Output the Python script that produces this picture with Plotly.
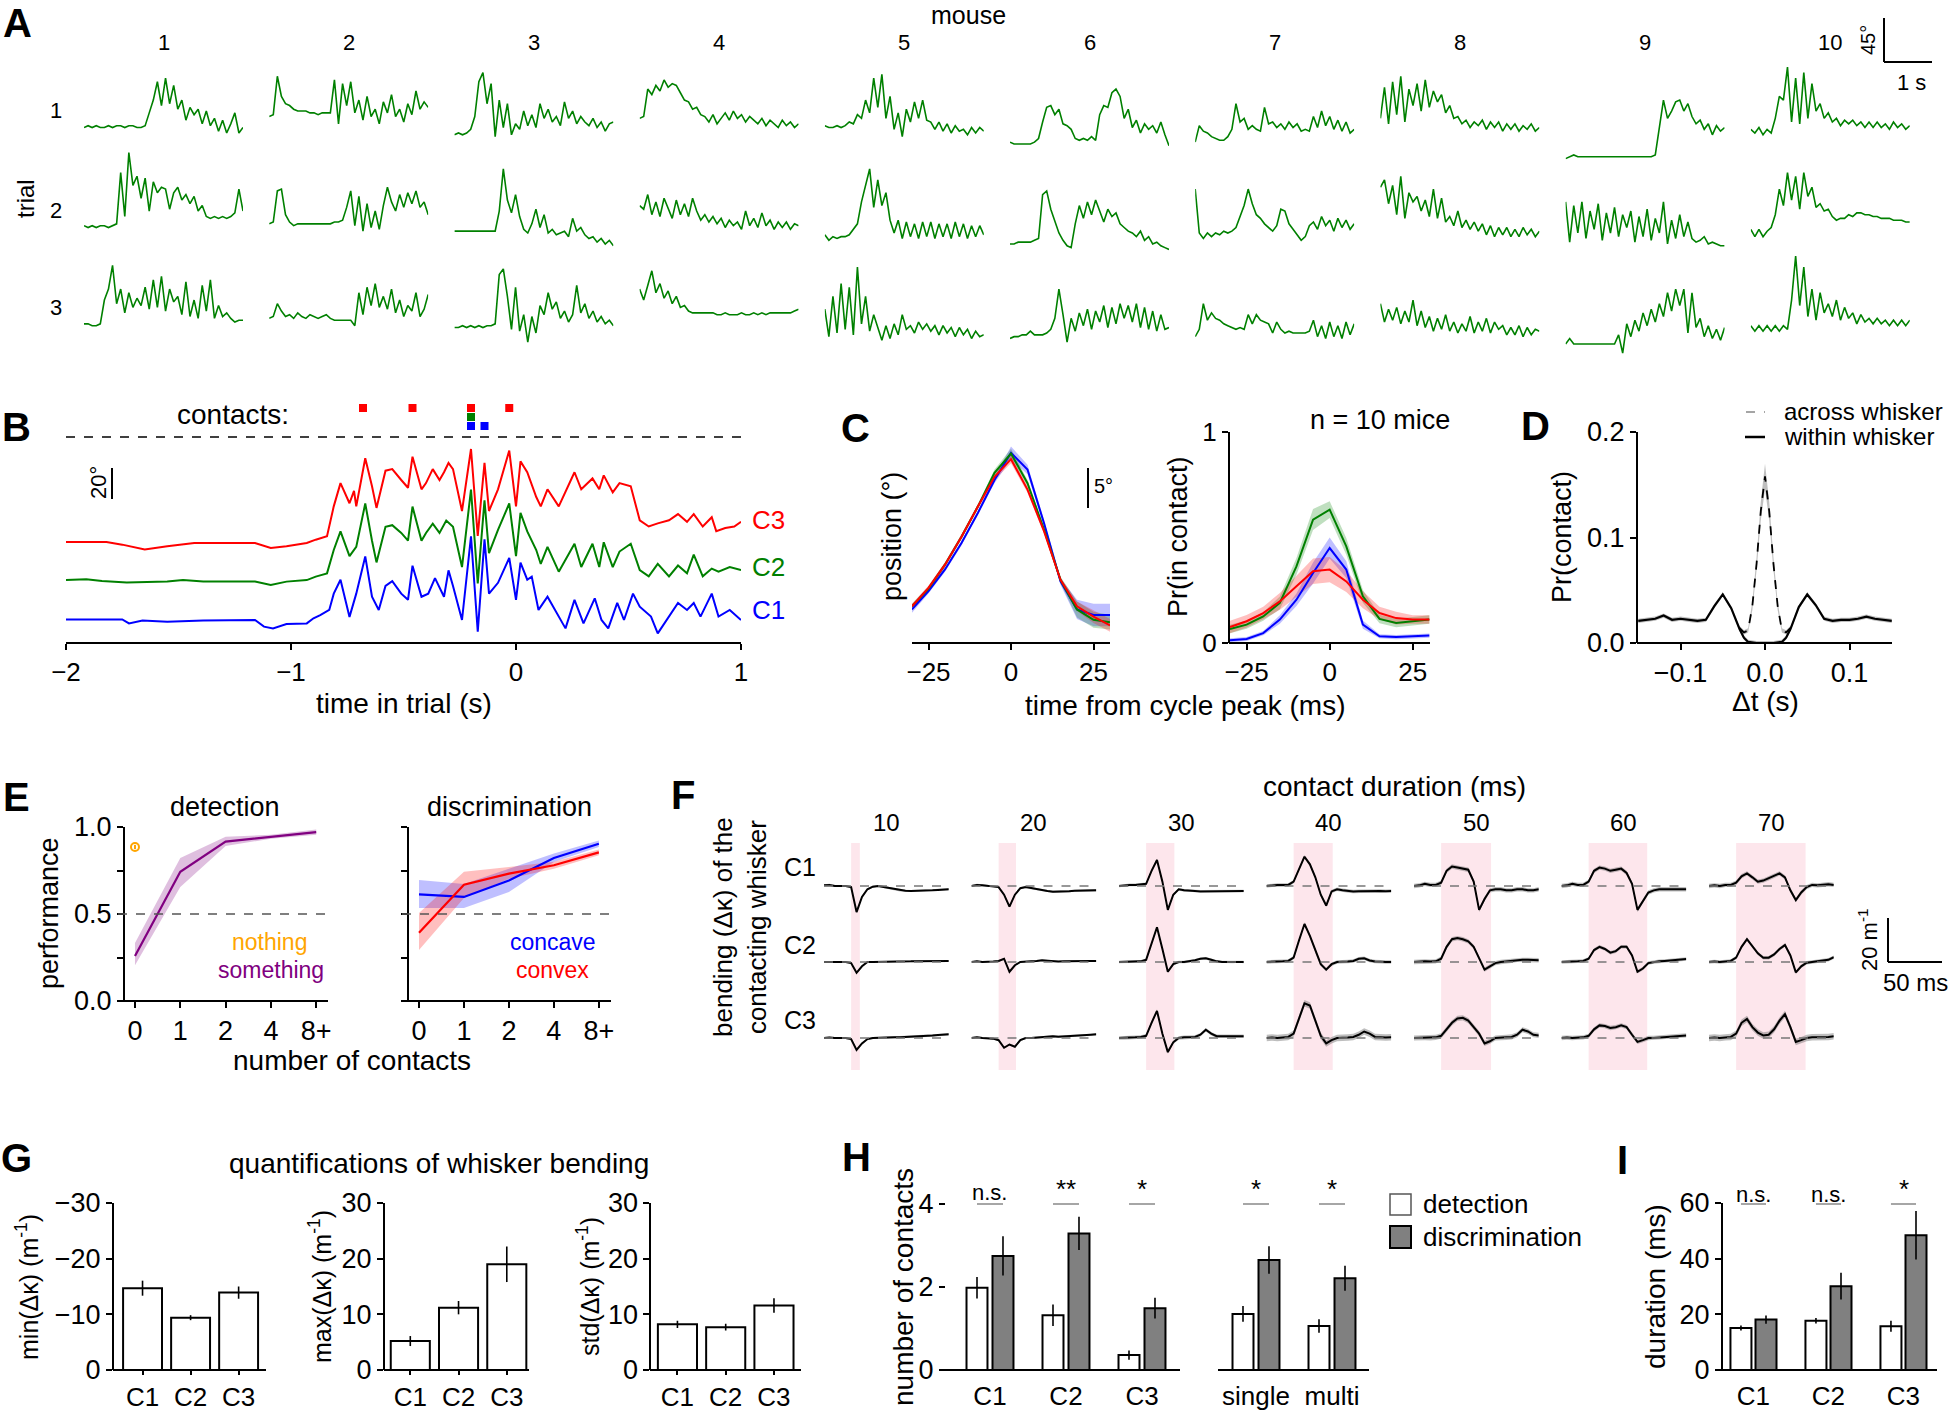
import numpy as np
import plotly.graph_objects as go

# ======================= DATA =======================
# ---- Panel A: whisker angle (deg) of 10 mice x 3 trials, 40 samples over 3.25 s
A_mice = ["1", "2", "3", "4", "5", "6", "7", "8", "9", "10"]
A_trials = ["1", "2", "3"]
A_duration_s = 3.25
A_trial1 = [
    [6,8,6,8,6,6,8,6,8,8,6,8,8,6,6,8,22,36,56,30,60,32,52,26,36,14,28,20,26,10,24,8,16,2,14,0,10,22,0,6],
    [18,20,62,40,32,30,26,24,24,24,22,22,20,22,22,22,58,10,54,30,56,22,36,14,40,18,26,10,34,22,42,18,26,12,32,20,46,26,34,28],
    [-2,0,-2,0,4,18,56,66,32,54,-4,36,6,32,-2,10,4,24,8,20,6,32,16,26,12,18,8,34,16,24,10,18,12,8,16,6,12,2,10,12],
    [16,18,48,42,52,46,58,50,54,52,44,36,34,26,28,20,18,12,20,10,16,22,14,24,16,20,12,18,14,10,16,8,14,10,6,14,8,12,6,10],
    [8,6,6,8,6,8,12,10,20,16,36,22,60,28,64,16,40,4,22,-4,26,12,34,16,36,14,12,4,12,2,10,0,8,2,4,-2,6,0,6,2],
    [-10,-12,-12,-12,-12,-12,-10,-6,12,28,30,20,26,10,8,4,-6,-8,-6,-8,-4,-8,20,30,28,44,48,40,16,26,6,14,0,10,4,8,0,12,-2,-14],
    [-10,8,2,0,-4,-6,-8,-8,-4,4,32,12,16,4,8,4,2,28,10,12,6,10,4,12,6,10,2,4,2,18,6,24,8,18,4,14,2,12,0,4],
    [16,50,10,56,20,62,12,48,30,54,24,58,28,46,34,42,22,30,16,18,10,14,6,12,8,14,4,12,6,12,2,10,4,10,2,8,4,10,2,6],
    [-28,-26,-24,-26,-26,-26,-26,-26,-26,-26,-26,-26,-26,-26,-26,-26,-26,-26,-26,-26,-26,-26,-24,8,36,16,24,34,36,24,32,18,10,14,4,10,-2,8,2,6],
    [4,0,6,-2,4,0,16,40,36,72,12,60,10,66,16,54,24,32,16,22,12,16,8,14,10,14,8,12,6,12,6,12,6,10,4,12,6,10,4,8],
]
A_trial2 = [
    [8,6,8,6,8,8,6,8,10,66,18,88,52,62,38,60,24,56,44,50,48,26,44,50,36,42,32,40,24,30,18,16,18,16,18,16,18,22,48,24],
    [10,12,46,48,20,12,8,10,10,10,10,10,10,10,10,10,12,12,14,28,46,8,40,2,32,6,24,4,30,50,34,24,42,28,44,32,46,28,34,20],
    [2,2,2,2,2,2,2,2,2,2,2,24,70,36,22,42,18,4,0,10,26,6,20,0,4,-2,0,2,-4,16,2,6,-2,-6,-4,-10,-6,-12,-8,-14],
    [30,26,42,20,34,18,38,26,16,36,20,32,18,38,24,14,20,12,18,10,16,6,14,8,12,4,24,8,16,6,22,8,14,4,12,6,12,4,10,8],
    [-2,-8,-4,-6,-4,-4,-2,4,10,34,52,70,28,58,30,44,14,0,14,-6,12,-4,10,-6,12,-4,12,-6,10,-4,10,-6,12,-4,10,-6,8,-4,8,-2],
    [-12,-12,-10,-10,-10,-10,-8,-6,42,46,26,12,0,-8,-14,-16,10,30,16,34,20,36,24,12,26,18,22,10,6,2,0,-4,2,-8,-4,-12,-10,-14,-16,-18],
    [48,0,-6,0,-4,0,-2,2,0,2,6,18,30,48,32,20,16,10,6,2,8,26,24,10,4,-2,-8,-4,8,12,4,18,8,14,2,16,6,14,4,10],
    [50,58,32,52,20,62,16,44,34,40,24,36,18,48,16,38,12,18,8,24,6,14,4,12,2,10,-2,8,-4,6,-2,6,-4,4,-4,6,-2,4,-4,2],
    [34,-10,30,0,34,-6,24,4,32,-8,22,0,28,-4,20,6,24,-10,18,-4,26,-8,16,0,34,-12,14,-6,20,-4,12,-6,-10,-8,-4,-12,-10,-12,-14,-14],
    [4,-4,4,-4,2,6,20,48,30,66,36,62,26,66,40,50,28,32,24,26,18,14,16,16,20,18,22,22,20,20,18,18,16,16,16,14,14,14,12,12],
]
A_trial3 = [
    [10,10,8,8,10,36,48,74,32,48,22,44,28,38,30,50,26,58,28,62,24,48,34,40,20,56,18,36,16,52,24,58,16,30,18,22,16,12,14,14],
    [16,18,32,24,18,20,16,22,18,16,20,18,16,18,20,16,14,14,14,14,14,8,44,20,50,30,54,28,40,26,48,22,36,18,30,24,44,18,26,42],
    [6,6,8,6,8,6,8,6,8,8,10,64,70,40,4,50,2,20,-10,18,0,30,20,44,26,34,16,24,12,20,52,22,32,16,24,12,18,10,14,8],
    [48,36,52,68,44,54,38,46,32,40,28,30,24,22,22,22,22,22,22,20,20,22,20,20,20,22,20,20,22,20,22,20,22,22,22,22,22,22,24,26],
    [26,-4,40,0,54,4,50,-2,72,10,40,2,20,6,-8,8,-6,10,-2,20,4,8,0,12,4,10,2,8,-2,8,0,6,-4,6,-2,4,-6,2,-4,-2],
    [-6,-4,-4,-2,-2,2,-2,-2,-2,0,4,16,48,20,-10,16,2,22,8,26,4,24,12,30,6,28,10,32,16,30,12,32,6,28,4,24,2,20,4,6],
    [-4,4,32,14,22,16,14,10,8,6,4,6,4,20,10,20,14,12,10,0,12,4,0,2,0,0,0,0,2,14,-4,8,-6,12,-4,8,-6,12,-2,10],
    [32,12,26,14,28,10,24,12,36,8,24,6,18,2,16,4,20,2,12,0,10,2,18,0,12,2,16,0,12,4,8,-2,6,-2,8,-4,6,-2,4,2],
    [-12,-6,-12,-12,-12,-12,-12,-12,-12,-12,-12,-12,-12,-2,-22,10,-4,14,2,22,8,26,12,32,18,44,24,48,30,48,0,44,6,16,-4,8,-6,4,-8,6],
    [8,2,8,2,8,2,8,2,8,4,36,84,30,72,18,48,14,44,22,32,18,36,14,28,16,22,10,20,12,16,10,16,10,14,8,14,8,14,8,14],
]

# ---- Panel B: whisker angles (deg, relative) vs time in trial (s)
B_t_C3 = [-2.00,-1.82,-1.75,-1.65,-1.55,-1.43,-1.16,-1.09,-1.02,-0.93,-0.89,-0.84,-0.81,-0.78,-0.74,-0.72,-0.71,-0.67,-0.64,-0.62,
          -0.58,-0.55,-0.51,-0.48,-0.46,-0.42,-0.40,-0.37,-0.34,-0.32,-0.30,-0.28,-0.24,-0.20,-0.17,-0.14,-0.12,-0.08,-0.03,0.00,
          0.02,0.05,0.09,0.11,0.14,0.19,0.26,0.29,0.34,0.37,0.39,0.43,0.46,0.51,0.55,0.59,0.63,0.68,0.72,0.76,0.79,0.83,0.87,0.89,0.93,0.97,1.00]
B_C3 = [0,0,-1.7,-4.9,-2.8,-0.6,-0.6,-3.9,-2.8,-0.6,1.5,3.7,23,38,25,33,23,54,36,22,
        46,47,40,35,55,34,38,47,40,45,51,47,20,60,4,51,20,34,59,23,
        52,45,29,23,34,23,45,34,41,34,43,32,38,36,14,10,12,14,18,13,18,10,16,7,9,10,13]
B_t_C2 = [-2.00,-1.91,-1.84,-1.73,-1.55,-1.48,-1.39,-1.16,-1.09,-1.02,-0.93,-0.89,-0.84,-0.81,-0.78,-0.74,-0.71,-0.67,-0.64,-0.62,
          -0.58,-0.55,-0.51,-0.48,-0.46,-0.42,-0.40,-0.37,-0.34,-0.31,-0.28,-0.24,-0.20,-0.17,-0.14,-0.12,-0.08,-0.03,0.00,0.02,
          0.05,0.09,0.11,0.14,0.19,0.26,0.29,0.34,0.37,0.39,0.43,0.46,0.51,0.55,0.59,0.63,0.68,0.72,0.76,0.79,0.83,0.87,0.90,0.95,1.00]
B_C2 = [0.6,1.1,0,-0.9,-0.4,0.6,-0.4,-0.4,-2.6,-0.4,0.6,2.8,4.9,20,32,16,22,50,26,12,
        35,36,31,26,48,26,31,37,31,39,35,9,59,-1.5,52,18,33,50,16,44,
        32,20,11,22,6,24,9,24,9,25,9,19,24,7,3,11,3,10,5,17,3,8,6,9,7]
B_t_C1 = [-2.00,-1.84,-1.75,-1.72,-1.66,-1.55,-1.39,-1.16,-1.12,-1.08,-1.02,-0.93,-0.90,-0.87,-0.83,-0.81,-0.78,-0.74,-0.71,-0.67,
          -0.64,-0.61,-0.58,-0.55,-0.51,-0.48,-0.46,-0.42,-0.39,-0.36,-0.32,-0.30,-0.28,-0.24,-0.20,-0.17,-0.14,-0.12,-0.08,-0.03,
          0.00,0.02,0.05,0.07,0.10,0.14,0.18,0.22,0.26,0.30,0.35,0.38,0.41,0.45,0.48,0.52,0.55,0.60,0.63,0.68,0.72,0.76,0.79,0.82,0.87,0.90,0.95,1.00]
B_C1 = [0.4,0.4,0.4,-2.2,-0.4,-1.1,-0.4,0,-4.3,-5.4,-2.6,-2.2,1.1,3.2,6.5,17,26,2,17,41,
        15,6.5,22,25,17,13,35,15,17,27,15,32,22,0,54,-7.5,52,17,24,40,
        13,37,26,28,6.5,15,4.3,-5.4,13,-2.2,14,0,-5.4,11,0,17,8.6,2.2,-8.6,2.2,11,6.5,11,2.2,17,2.2,6.5,0]
B_contacts_C3 = [-0.68, -0.46, -0.20, -0.03]
B_contacts_C2 = [-0.20]
B_contacts_C1 = [-0.20, -0.14]

# ---- Panel C: whisk-cycle aligned position (deg) and Pr(in contact)
C_t = [-30, -25, -20, -15, -10, -5, 0, 5, 10, 15, 20, 25, 30]
C_pos_C3 = [4.6, 6.9, 9.8, 13.3, 17.1, 20.8, 23.0, 19.2, 14.0, 7.9, 4.6, 3.3, 2.2]
C_pos_C2 = [4.6, 6.8, 9.8, 13.3, 17.1, 21.3, 23.7, 20.0, 14.2, 7.9, 4.2, 2.9, 2.6]
C_pos_C1 = [4.2, 6.5, 9.2, 12.5, 16.3, 20.4, 23.8, 21.7, 15.0, 7.7, 4.2, 3.5, 3.5]
C_pos_sem_C3 = [0.3, 0.3, 0.3, 0.3, 0.3, 0.4, 0.5, 0.4, 0.3, 0.3, 0.6, 0.8, 0.8]
C_pos_sem_C2 = [0.3, 0.3, 0.3, 0.3, 0.3, 0.4, 0.6, 0.4, 0.3, 0.4, 1.0, 1.0, 0.9]
C_pos_sem_C1 = [0.4, 0.3, 0.3, 0.3, 0.3, 0.4, 0.8, 0.6, 0.4, 0.4, 1.2, 1.4, 1.4]
C_pr_C3 = [0.076, 0.103, 0.142, 0.197, 0.269, 0.340, 0.348, 0.292, 0.205, 0.142, 0.118, 0.111, 0.111]
C_pr_C2 = [0.066, 0.087, 0.126, 0.190, 0.363, 0.585, 0.632, 0.458, 0.221, 0.114, 0.095, 0.103, 0.111]
C_pr_C1 = [0.013, 0.019, 0.047, 0.111, 0.205, 0.332, 0.450, 0.348, 0.087, 0.032, 0.028, 0.032, 0.035]
C_pr_sem_C3 = [0.03, 0.03, 0.03, 0.04, 0.05, 0.06, 0.06, 0.05, 0.04, 0.03, 0.03, 0.02, 0.02]
C_pr_sem_C2 = [0.02, 0.02, 0.02, 0.03, 0.04, 0.05, 0.04, 0.04, 0.03, 0.02, 0.02, 0.02, 0.02]
C_pr_sem_C1 = [0.01, 0.01, 0.01, 0.02, 0.03, 0.05, 0.05, 0.04, 0.02, 0.01, 0.01, 0.01, 0.01]

# ---- Panel D: cross-correlation of contacts
D_t_within = [-0.15,-0.14,-0.13,-0.12,-0.11,-0.10,-0.09,-0.08,-0.07,-0.06,-0.05,-0.04,-0.03,-0.025,-0.02,-0.01,0,
              0.01,0.02,0.025,0.03,0.04,0.05,0.06,0.07,0.08,0.09,0.10,0.11,0.12,0.13,0.14,0.15]
D_within = [0.021,0.022,0.023,0.026,0.022,0.023,0.022,0.021,0.022,0.035,0.046,0.033,0.013,0.005,0.001,0,0,
            0,0.001,0.005,0.013,0.034,0.046,0.036,0.023,0.021,0.022,0.022,0.023,0.025,0.023,0.022,0.021]
D_t_across = [-0.03,-0.025,-0.02,-0.015,-0.01,-0.005,0,0.005,0.01,0.015,0.02,0.025,0.03]
D_across = [0.014,0.010,0.012,0.035,0.075,0.125,0.158,0.125,0.075,0.035,0.012,0.010,0.014]
D_across_sem = [0.002,0.002,0.002,0.004,0.006,0.009,0.012,0.009,0.006,0.004,0.002,0.002,0.002]
D_within_sem = 0.002

# ---- Panel E: performance vs number of contacts
E_cats = ["0", "1", "2", "4", "8+"]
E_something = [0.259, 0.743, 0.916, 0.944, 0.971]
E_something_lo = [0.205, 0.655, 0.891, 0.933, 0.955]
E_something_hi = [0.333, 0.822, 0.944, 0.955, 0.986]
E_nothing = 0.885
E_nothing_err = 0.012
E_concave = [0.613, 0.598, 0.693, 0.822, 0.904]
E_concave_lo = [0.534, 0.534, 0.626, 0.799, 0.885]
E_concave_hi = [0.695, 0.672, 0.760, 0.847, 0.923]
E_convex = [0.392, 0.668, 0.732, 0.780, 0.854]
E_convex_lo = [0.293, 0.592, 0.703, 0.760, 0.837]
E_convex_hi = [0.506, 0.743, 0.770, 0.800, 0.870]

# ---- Panel F: whisker bending (1/m) by contact duration
F_durations = ["10", "20", "30", "40", "50", "60", "70"]
F_shade_ms = [8, 16, 26, 36, 46, 54, 64]
F_t = [-25,-20,-15,-10,-5,0,5,10,15,20,25,30,35,40,45,50,55,60,65,70,75,80,85,90]
F_C1 = [
    [0.3,0.5,0,0,0,-0.5,-12,-5,-1.5,-0.3,0,-0.5,-1,-1.5,-2,-2.2,-2.3,-2.3,-2.2,-2,-2,-1.8,-1.6,-1.5],
    [0,0.5,0.3,0,0,-0.5,-4,-9.5,-4,-1,-0.5,-1,-1.5,-2,-2.3,-2.6,-2.6,-2.5,-2.4,-2.2,-2.2,-2.2,-2,-2],
    [0,0.3,0.5,0.5,0.6,1,7,12,2,-11,-4,-1.5,-2,-2,-2.3,-2.5,-2.5,-2.4,-2.4,-2.3,-2.3,-2.3,-2.3,-2.3],
    [0,0.3,0.5,0.5,0.5,2,8,13.5,10,4,-4,-9,-2.5,-1.5,-2,-2.3,-2.5,-2.4,-2.3,-2.3,-2.2,-2.3,-2.4,-2.3],
    [0,0.3,1,0.5,0.5,1.5,7,9,8.5,8,7.5,2,-11,-6,-2,-1.5,-1.5,-2,-2,-1.5,-1.5,-2,-2,-1.5],
    [0,0.3,1,0.5,0.5,2,7,8.5,8,7,7.5,8,6,1,-11,-7,-3,-2,-1.5,-1.5,-1.5,-1.5,-1.5,-1.5],
    [0,0.3,0,0.5,0.5,1.5,4.5,5.8,4,2,2.5,3.5,4.5,5.8,4,-2,-6.5,-3,-0.5,0.5,0.3,0.5,0.8,0.5],
]
F_C2 = [
    [0,0,0,0,0,-0.5,-5,-2,0,0,0,0.2,0.2,0.2,0.3,0.3,0.3,0.4,0.4,0.4,0.4,0.5,0.5,0.5],
    [0,0.3,0,0,0.2,0.5,1.5,-4.5,-1.5,0,0,0.3,0.5,0.8,0.6,0.3,0.2,0.3,0.4,0.3,0.3,0.4,0.5,0.5],
    [0,0,0,0.2,0.3,1,9,16,6,-4.5,-1,0,0,0.3,0.8,1.5,1.7,1,0.3,0,0,0,0.2,0],
    [0,0,0.2,0.3,0.5,2,10,17.5,12,5,-1,-3.5,-1,0,0,0.2,0.5,1.5,1.7,0.7,0.2,0,0,0],
    [0,0.2,0.3,0.2,0.3,1.5,7,10.5,11,10.5,9.5,7,2,-3.5,-2,-0.5,0,0.3,0.5,1,1,1,0.8,0.8],
    [0,0,0.2,0.3,0.5,1.5,5.5,7,6,4.3,5,7,7,3,-4.5,-3,-0.5,0,0.3,0.5,0.8,1,1.2,1.4],
    [0,0.2,0,0.3,0.5,2,7,10.5,7,4,2,2,3.5,6,7.8,3,-4.8,-2,-0.3,0,0.3,0.5,1,2.2],
]
F_C3 = [
    [0,0.2,0,0,0,-0.5,-5.5,-2.5,-0.5,0,0,0.2,0.2,0.3,0.4,0.5,0.6,0.6,0.8,1,1.2,1.4,1.6,1.7],
    [0,0.3,0,0,-0.3,-1,-4.5,-3,-4,-1,0,0,0.2,0.5,0.7,0.8,0.6,0.7,1,1,1.2,1.4,1.5,1.7],
    [0,0,0,0.3,0.5,1,7,12.5,2,-6.5,-2,0,0.3,0.3,0.5,1.5,3.8,2,0.8,0.8,0.8,0.8,0.8,0.8],
    [0,0.2,0,0.3,0.5,2,9,16,15,8,1,-2.5,-1,0,0,0.2,0.5,1.5,3,2,0.5,0.3,0.2,0.3],
    [0,0,0.2,0,0.3,1,4,7,9,9.3,8,5,2,-2.5,-1.5,0,0.3,0.3,0.5,1.5,3.8,3,1.5,1.2],
    [0,0.2,0,0.2,0.3,1,4,5.8,5.5,4.6,5,5.8,5,1.5,-1.8,-1,0,0,0.2,0.3,0.5,0.8,1,1.2],
    [0,0.2,0,0.3,0.5,2,7,8.8,5,2.5,1.2,1.5,4,8,11,5,-1.8,-1,0,0.3,0.3,0.5,0.5,0.8],
]
F_sem_C1 = [0.5, 0.5, 0.6, 0.8, 1.0, 1.0, 1.0]
F_sem_C2 = [0.4, 0.4, 0.6, 0.8, 1.0, 0.8, 0.8]
F_sem_C3 = [0.5, 0.5, 0.8, 1.5, 1.2, 1.0, 1.5]

# ---- Panel G: quantifications of whisker bending (1/m)
G_whiskers = ["C1", "C2", "C3"]
G_min = [-14.7, -9.4, -13.9]
G_min_err = [1.35, 0.45, 1.1]
G_max = [5.2, 11.2, 19.0]
G_max_err = [0.9, 1.2, 3.2]
G_std = [8.2, 7.7, 11.6]
G_std_err = [0.65, 0.6, 1.3]

# ---- Panel H: number of contacts
H_groups = ["C1", "C2", "C3", "single", "multi"]
H_det = [1.98, 1.32, 0.36, 1.35, 1.06]
H_det_err = [0.26, 0.26, 0.11, 0.19, 0.16]
H_disc = [2.75, 3.29, 1.49, 2.65, 2.21]
H_disc_err = [0.47, 0.40, 0.25, 0.33, 0.30]
H_sig = ["n.s.", "**", "*", "*", "*"]

# ---- Panel I: contact duration (ms)
I_groups = ["C1", "C2", "C3"]
I_det = [15.1, 17.7, 15.7]
I_det_err = [0.9, 1.0, 2.0]
I_disc = [18.1, 30.1, 48.4]
I_disc_err = [1.5, 4.8, 8.7]
I_sig = ["n.s.", "n.s.", "*"]

# ======================= FIGURE HELPERS =======================
W, H = 1950, 1414
FONT = "Liberation Sans, Arial, sans-serif"
RED, GREEN, BLUE = "#ff0000", "#008000", "#0000ff"
PURPLE, ORANGE = "#800080", "#ffa500"

fig = go.Figure()
layout = {}
annotations = []
shapes = []
_n = {"x": 0, "y": 0}


def X(p):
    return p / W


def Y(p):
    return 1 - p / H


def _axis(letter, dom, rng, kw):
    _n[letter] += 1
    n = _n[letter]
    name = f"{letter}axis" if n == 1 else f"{letter}axis{n}"
    ref = letter if n == 1 else f"{letter}{n}"
    d = dict(domain=dom, range=rng, showgrid=False, zeroline=False, fixedrange=True)
    if kw.pop("show", False):
        d.update(showline=True, linecolor="black", linewidth=2, ticks="outside", ticklen=6,
                 tickwidth=2, tickcolor="black", showticklabels=True,
                 tickfont=dict(size=26, family=FONT, color="black"), anchor="free")
    else:
        d.update(visible=False)
    d.update(kw)
    layout[name] = d
    return ref


def new_x(left, right, rng, **kw):
    return _axis("x", [X(left), X(right)], rng, kw)


def new_y(top, bottom, rng, **kw):
    return _axis("y", [Y(bottom), Y(top)], rng, kw)


def line(x, y, xa, ya, color, width=2.0, dash=None):
    fig.add_trace(go.Scatter(x=list(x), y=list(y), xaxis=xa, yaxis=ya, mode="lines",
                             line=dict(color=color, width=width, dash=dash),
                             hoverinfo="skip", showlegend=False))


def band(x, lo, hi, xa, ya, fill):
    xs = list(x) + list(x)[::-1]
    ys = list(hi) + list(lo)[::-1]
    fig.add_trace(go.Scatter(x=xs, y=ys, xaxis=xa, yaxis=ya, mode="lines", line=dict(width=0),
                             fill="toself", fillcolor=fill, hoverinfo="skip", showlegend=False))


def txt(x, y, s, size=26, color="black", xanchor="center", angle=0):
    annotations.append(dict(x=X(x), y=Y(y), xref="paper", yref="paper", text=s, showarrow=False,
                            font=dict(size=size, color=color, family=FONT),
                            xanchor=xanchor, yanchor="middle", textangle=angle))


def pline(x0, y0, x1, y1, color="black", width=2, dash=None):
    shapes.append(dict(type="line", xref="paper", yref="paper", x0=X(x0), y0=Y(y0), x1=X(x1), y1=Y(y1),
                       line=dict(color=color, width=width, dash=dash)))


def letter(x, y, s):
    txt(x, y, f"<b>{s}</b>", size=40)


MINOR = dict(ticks="outside", ticklen=6, tickwidth=2, tickcolor="black")

# ======================= PANEL A =======================
letter(17, 23, "A")
txt(968, 15, "mouse", size=25)
txt(25, 199, "trial", size=24, angle=-90)
A_left0, A_dx, A_w = 84, 185.2, 159
A_ref = [133, 233, 333]
A_pxdeg = 0.915
A_xa = [new_x(A_left0 + A_dx * c, A_left0 + A_dx * c + A_w, [0, A_duration_s]) for c in range(10)]
A_ya = [new_y(r - 90 * A_pxdeg, r + 40 * A_pxdeg, [-40, 90]) for r in A_ref]
t_A = np.linspace(0, A_duration_s, 40)
for r, rows in enumerate([A_trial1, A_trial2, A_trial3]):
    for c, vals in enumerate(rows):
        line(t_A, vals, A_xa[c], A_ya[r], GREEN, 1.6)
for c, m in enumerate(A_mice):
    txt(A_left0 + A_dx * c + A_w / 2, 42, m, size=22)
for r, tr in enumerate(A_trials):
    txt(56, [111, 210, 308][r], tr, size=22)
pline(1884, 18, 1884, 62)
pline(1884, 62, 1932, 62)
txt(1868, 40, "45°", size=20, angle=-90)
txt(1911, 82, "1 s", size=22)

# ======================= PANEL B =======================
letter(16, 427, "B")
xB = new_x(66, 741, [-2, 1], show=True, position=Y(643), tickvals=[-2, -1, 0, 1])
B_pxdeg = 1.55
B_axes = {}
for name, base in [("C3", 542), ("C2", 581), ("C1", 620)]:
    B_axes[name] = new_y(base - 70 * B_pxdeg, base + 15 * B_pxdeg, [-15, 70])
line(B_t_C3, B_C3, xB, B_axes["C3"], RED, 2)
line(B_t_C2, B_C2, xB, B_axes["C2"], GREEN, 2)
line(B_t_C1, B_C1, xB, B_axes["C1"], BLUE, 2)
yCont = new_y(403.5, 430.5, [0.5, 3.5])
for times, lvl, col in [(B_contacts_C3, 3, RED), (B_contacts_C2, 2, GREEN), (B_contacts_C1, 1, BLUE)]:
    fig.add_trace(go.Scatter(x=times, y=[lvl] * len(times), xaxis=xB, yaxis=yCont, mode="markers",
                             marker=dict(symbol="square", size=8, color=col, line=dict(width=0)),
                             hoverinfo="skip", showlegend=False))
pline(66, 437, 741, 437, width=1.5, dash="dash")
txt(291, 415, "contacts:", size=28, xanchor="right")
pline(112, 468, 112, 499)
txt(98, 483, "20°", size=22, angle=-90)
txt(750, 520, "C3", size=26, color=RED, xanchor="left")
txt(750, 567, "C2", size=26, color=GREEN, xanchor="left")
txt(750, 610, "C1", size=26, color=BLUE, xanchor="left")
txt(404, 703, "time in trial (s)", size=28)

# ======================= PANEL C =======================
letter(855, 428, "C")
xC1 = new_x(912, 1110, [-30, 30], show=True, position=Y(643), tickvals=[-25, 0, 25])
yC1 = new_y(440, 643, [0, 25.4])
for m, s, col, fc in [(C_pos_C1, C_pos_sem_C1, BLUE, "rgba(0,0,255,0.25)"),
                      (C_pos_C2, C_pos_sem_C2, GREEN, "rgba(0,128,0,0.25)"),
                      (C_pos_C3, C_pos_sem_C3, RED, "rgba(255,0,0,0.25)")]:
    band(C_t, np.array(m) - np.array(s), np.array(m) + np.array(s), xC1, yC1, fc)
for m, col in [(C_pos_C1, BLUE), (C_pos_C2, GREEN), (C_pos_C3, RED)]:
    line(C_t, m, xC1, yC1, col, 2)
pline(1088, 468, 1088, 508)
txt(1092, 486, "5°", size=20, xanchor="left")
txt(892, 537, "position (°)", size=27, angle=-90)

xC2 = new_x(1229, 1430, [-30.3, 30.2], show=True, position=Y(643), tickvals=[-25, 0, 25])
yC2 = new_y(432, 643, [0, 1], show=True, position=X(1229), tickvals=[0, 1], ticktext=["0", "1"])
for m, s, fc in [(C_pr_C1, C_pr_sem_C1, "rgba(0,0,255,0.25)"),
                 (C_pr_C2, C_pr_sem_C2, "rgba(0,128,0,0.25)"),
                 (C_pr_C3, C_pr_sem_C3, "rgba(255,0,0,0.25)")]:
    band(C_t, np.array(m) - np.array(s), np.array(m) + np.array(s), xC2, yC2, fc)
for m, col in [(C_pr_C1, BLUE), (C_pr_C2, GREEN), (C_pr_C3, RED)]:
    line(C_t, m, xC2, yC2, col, 2)
txt(1178, 537, "Pr(in contact)", size=27, angle=-90)
txt(1380, 420, "n = 10 mice", size=27)
txt(1185, 705, "time from cycle peak (ms)", size=28)

# ======================= PANEL D =======================
letter(1535, 426, "D")
tf27 = dict(size=27, family=FONT, color="black")
xD = new_x(1637, 1892, [-0.1515, 0.1503], show=True, position=Y(643), tickvals=[-0.1, 0, 0.1],
           ticktext=["−0.1", "0.0", "0.1"], tickfont=tf27)
yD = new_y(432, 643, [0, 0.2], show=True, position=X(1637), tickvals=[0, 0.1, 0.2],
           ticktext=["0.0", "0.1", "0.2"], tickfont=tf27)
band(D_t_within, np.array(D_within) - D_within_sem, np.array(D_within) + D_within_sem, xD, yD, "rgba(0,0,0,0.25)")
band(D_t_across, np.array(D_across) - np.array(D_across_sem), np.array(D_across) + np.array(D_across_sem), xD, yD,
     "rgba(0,0,0,0.25)")
line(D_t_within, D_within, xD, yD, "black", 2.2)
line(D_t_across, D_across, xD, yD, "black", 1.8, dash="dash")
txt(1562, 537, "Pr(contact)", size=27, angle=-90)
txt(1765, 702, "Δt (s)", size=28)
pline(1746, 412, 1765, 412, color="#888888", width=1.5, dash="dash")
pline(1745, 437, 1765, 437, color="black", width=2.5)
txt(1782, 411, "across whisker", size=24, xanchor="left")
txt(1782, 436, "within whisker", size=24, xanchor="left")

# ======================= PANEL E =======================
letter(16, 797, "E")
xE1 = new_x(118, 328, [-0.375, 4.26], show=True, position=Y(1001), tickvals=[0, 1, 2, 3, 4],
            ticktext=E_cats, tickfont=tf27)
yE1 = new_y(827, 1001, [0, 1], show=True, position=X(124), tickvals=[0, 0.5, 1],
            ticktext=["0.0", "0.5", "1.0"], tickfont=tf27,
            minor=dict(tickvals=[0.25, 0.75], **MINOR))
E_x = [0, 1, 2, 3, 4]
shapes.append(dict(type="line", xref=xE1, yref=yE1, x0=-0.375, x1=4.26, y0=0.5, y1=0.5,
                   line=dict(color="#555555", width=1.6, dash="dash")))
band(E_x, E_something_lo, E_something_hi, xE1, yE1, "rgba(128,0,128,0.25)")
line(E_x, E_something, xE1, yE1, PURPLE, 2.2)
fig.add_trace(go.Scatter(x=[0], y=[E_nothing], xaxis=xE1, yaxis=yE1, mode="markers",
                         marker=dict(symbol="circle-open", size=8, color=ORANGE, line=dict(width=2)),
                         error_y=dict(type="data", array=[E_nothing_err], color=ORANGE, thickness=2, width=0),
                         hoverinfo="skip", showlegend=False))
txt(225, 807, "detection", size=27)
txt(309, 942, "nothing", size=23, color=ORANGE, xanchor="right")
txt(326, 970, "something", size=23, color=PURPLE, xanchor="right")

xE2 = new_x(402, 611, [-0.378, 4.27], show=True, position=Y(1001), tickvals=[0, 1, 2, 3, 4],
            ticktext=E_cats, tickfont=tf27)
yE2 = new_y(827, 1001, [0, 1], show=True, position=X(408), tickvals=[0, 0.25, 0.5, 0.75, 1],
            showticklabels=False)
shapes.append(dict(type="line", xref=xE2, yref=yE2, x0=-0.378, x1=4.27, y0=0.5, y1=0.5,
                   line=dict(color="#555555", width=1.6, dash="dash")))
band(E_x, E_concave_lo, E_concave_hi, xE2, yE2, "rgba(0,0,255,0.25)")
band(E_x, E_convex_lo, E_convex_hi, xE2, yE2, "rgba(255,0,0,0.25)")
line(E_x, E_concave, xE2, yE2, BLUE, 2.2)
line(E_x, E_convex, xE2, yE2, RED, 2.2)
txt(509, 807, "discrimination", size=27)
txt(598, 942, "concave", size=23, color=BLUE, xanchor="right")
txt(591, 970, "convex", size=23, color=RED, xanchor="right")
txt(49, 913, "performance", size=27, angle=-90)
txt(352, 1060, "number of contacts", size=28)

# ======================= PANEL F =======================
letter(683, 795, "F")
txt(1394, 787, "contact duration (ms)", size=28)
F_left0, F_dx, F_w = 824, 147.5, 124.8
F_base = [886, 962, 1038]
F_pxunit = 2.17
F_xa = [new_x(F_left0 + F_dx * k, F_left0 + F_dx * k + F_w, [-25, 90]) for k in range(7)]
F_ya = [new_y(b - 25 * F_pxunit, b + 15 * F_pxunit, [-15, 25]) for b in F_base]
for k in range(7):
    shapes.append(dict(type="rect", xref=F_xa[k], yref="paper", x0=0, x1=F_shade_ms[k],
                       y0=Y(1070), y1=Y(843), fillcolor="#fde6ec", line=dict(width=0), layer="below"))
    txt(F_left0 + F_dx * k + F_w / 2, 823, F_durations[k], size=24)
for r, (rows, sems) in enumerate([(F_C1, F_sem_C1), (F_C2, F_sem_C2), (F_C3, F_sem_C3)]):
    for k in range(7):
        shapes.append(dict(type="line", xref=F_xa[k], yref=F_ya[r], x0=-25, x1=90, y0=0, y1=0,
                           line=dict(color="#777777", width=1.3, dash="dash")))
        v = np.array(rows[k])
        band(F_t, v - sems[k], v + sems[k], F_xa[k], F_ya[r], "rgba(110,110,110,0.45)")
        line(F_t, rows[k], F_xa[k], F_ya[r], "black", 2)
for r, nm in enumerate(["C1", "C2", "C3"]):
    txt(800, [867, 945, 1020][r], nm, size=25)
txt(740, 927, "bending (Δκ) of the<br>contacting whisker", size=26, angle=-90)
pline(1888, 918, 1888, 962)
pline(1888, 962, 1942, 962)
txt(1868, 940, "20 m<sup>-1</sup>", size=22, angle=-90)
txt(1915, 982, "50 ms", size=24)

# ======================= PANEL G =======================
letter(16, 1158, "G")
txt(439, 1163, "quantifications of whisker bending", size=28)
tfx = dict(size=26, family=FONT, color="black")
G_pos = [0, 1, 2]
G_specs = [
    (113, 266, [-0.615, 2.57], G_min, G_min_err, [0, -30], [0, -10, -20, -30], 27, "min(Δκ) (m<sup>-1</sup>)"),
    (384, 528.5, [-0.545, 2.45], G_max, G_max_err, [0, 30], [0, 10, 20, 30], 320, "max(Δκ) (m<sup>-1</sup>)"),
    (650.4, 801, [-0.56, 2.56], G_std, G_std_err, [0, 30], [0, 10, 20, 30], 588, "std(Δκ) (m<sup>-1</sup>)"),
]
for left, right, xr, vals, errs, yr, tv, tx, title in G_specs:
    xa = new_x(left, right, xr, show=True, position=Y(1370), tickvals=G_pos, ticktext=G_whiskers,
               tickfont=tfx, ticklen=4)
    ya = new_y(1203, 1370, yr, show=True, position=X(left), tickvals=tv, tickfont=tf27)
    fig.add_trace(go.Bar(x=G_pos, y=vals, width=0.81, xaxis=xa, yaxis=ya,
                         marker=dict(color="white", line=dict(color="black", width=2)),
                         error_y=dict(type="data", array=errs, color="black", thickness=1.6, width=0),
                         hoverinfo="skip", showlegend=False))
    txt(tx, 1287, title, size=25, angle=-90)

# ======================= PANEL H =======================
letter(856, 1157, "H")
H_pos = [0, 1, 2, 3.5, 4.5]
H_off, H_bw = 0.171, 0.276
xH = new_x(945, 1370, [-0.592, 5.0], show=True, position=Y(1370), showline=False, tickvals=H_pos,
           ticktext=H_groups, tickfont=tfx, ticklen=3, tickcolor="rgba(0,0,0,0)")
yH = new_y(1204, 1370, [0, 4], show=True, position=X(945), showline=False, tickvals=[0, 2, 4], tickfont=tf27)
fig.add_trace(go.Bar(x=[p - H_off for p in H_pos], y=H_det, width=H_bw, xaxis=xH, yaxis=yH,
                     marker=dict(color="white", line=dict(color="black", width=2)),
                     error_y=dict(type="data", array=H_det_err, color="black", thickness=1.6, width=0),
                     hoverinfo="skip", showlegend=False))
fig.add_trace(go.Bar(x=[p + H_off for p in H_pos], y=H_disc, width=H_bw, xaxis=xH, yaxis=yH,
                     marker=dict(color="#808080", line=dict(color="black", width=2)),
                     error_y=dict(type="data", array=H_disc_err, color="black", thickness=1.6, width=0),
                     hoverinfo="skip", showlegend=False))
pline(945, 1370, 1180, 1370)
pline(1218, 1370, 1369, 1370)
for p, s in zip(H_pos, H_sig):
    shapes.append(dict(type="line", xref=xH, yref="paper", x0=p - H_off, x1=p + H_off, y0=Y(1204), y1=Y(1204),
                       line=dict(color="#888888", width=1.5)))
    if s == "n.s.":
        txt(945 + (p + 0.592) * 76, 1192, s, size=22)
    else:
        txt(945 + (p + 0.592) * 76, 1189, s, size=26)
txt(903, 1287, "number of contacts", size=28, angle=-90)
shapes.append(dict(type="rect", xref="paper", yref="paper", x0=X(1390), x1=X(1411), y0=Y(1215), y1=Y(1194),
                   fillcolor="white", line=dict(color="#555555", width=1.5)))
shapes.append(dict(type="rect", xref="paper", yref="paper", x0=X(1390), x1=X(1411), y0=Y(1248), y1=Y(1226),
                   fillcolor="#808080", line=dict(color="black", width=2)))
txt(1421, 1204, "detection", size=26, xanchor="left")
txt(1421, 1237, "discrimination", size=26, xanchor="left")

# ======================= PANEL I =======================
letter(1622, 1160, "I")
I_pos = [0, 1, 2]
I_off, I_bw = 0.167, 0.28
xI = new_x(1715, 1937, [-0.513, 2.447], show=True, position=Y(1370), tickvals=I_pos, ticktext=I_groups,
           tickfont=tfx, ticklen=3, tickcolor="rgba(0,0,0,0)")
yI = new_y(1203, 1370, [0, 60], show=True, position=X(1722), tickvals=[0, 20, 40, 60], tickfont=tf27)
fig.add_trace(go.Bar(x=[p - I_off for p in I_pos], y=I_det, width=I_bw, xaxis=xI, yaxis=yI,
                     marker=dict(color="white", line=dict(color="black", width=2)),
                     error_y=dict(type="data", array=I_det_err, color="black", thickness=1.6, width=0),
                     hoverinfo="skip", showlegend=False))
fig.add_trace(go.Bar(x=[p + I_off for p in I_pos], y=I_disc, width=I_bw, xaxis=xI, yaxis=yI,
                     marker=dict(color="#808080", line=dict(color="black", width=2)),
                     error_y=dict(type="data", array=I_disc_err, color="black", thickness=1.6, width=0),
                     hoverinfo="skip", showlegend=False))
for p, s in zip(I_pos, I_sig):
    shapes.append(dict(type="line", xref=xI, yref="paper", x0=p - I_off, x1=p + I_off, y0=Y(1204), y1=Y(1204),
                       line=dict(color="#888888", width=1.5)))
    if s == "n.s.":
        txt(1753.5 + p * 75, 1194, s, size=22)
    else:
        txt(1753.5 + p * 75, 1189, s, size=26)
txt(1655, 1287, "duration (ms)", size=28, angle=-90)

# ======================= LAYOUT =======================
fig.update_layout(width=W, height=H, margin=dict(l=0, r=0, t=0, b=0), template="none",
                  paper_bgcolor="white", plot_bgcolor="rgba(0,0,0,0)", showlegend=False,
                  hovermode=False, barmode="overlay",
                  font=dict(family=FONT, color="black", size=24),
                  annotations=annotations, shapes=shapes, **layout)
fig.write_html("out.html", config={"displayModeBar": False},
               post_script="document.body.style.margin='0px';")
